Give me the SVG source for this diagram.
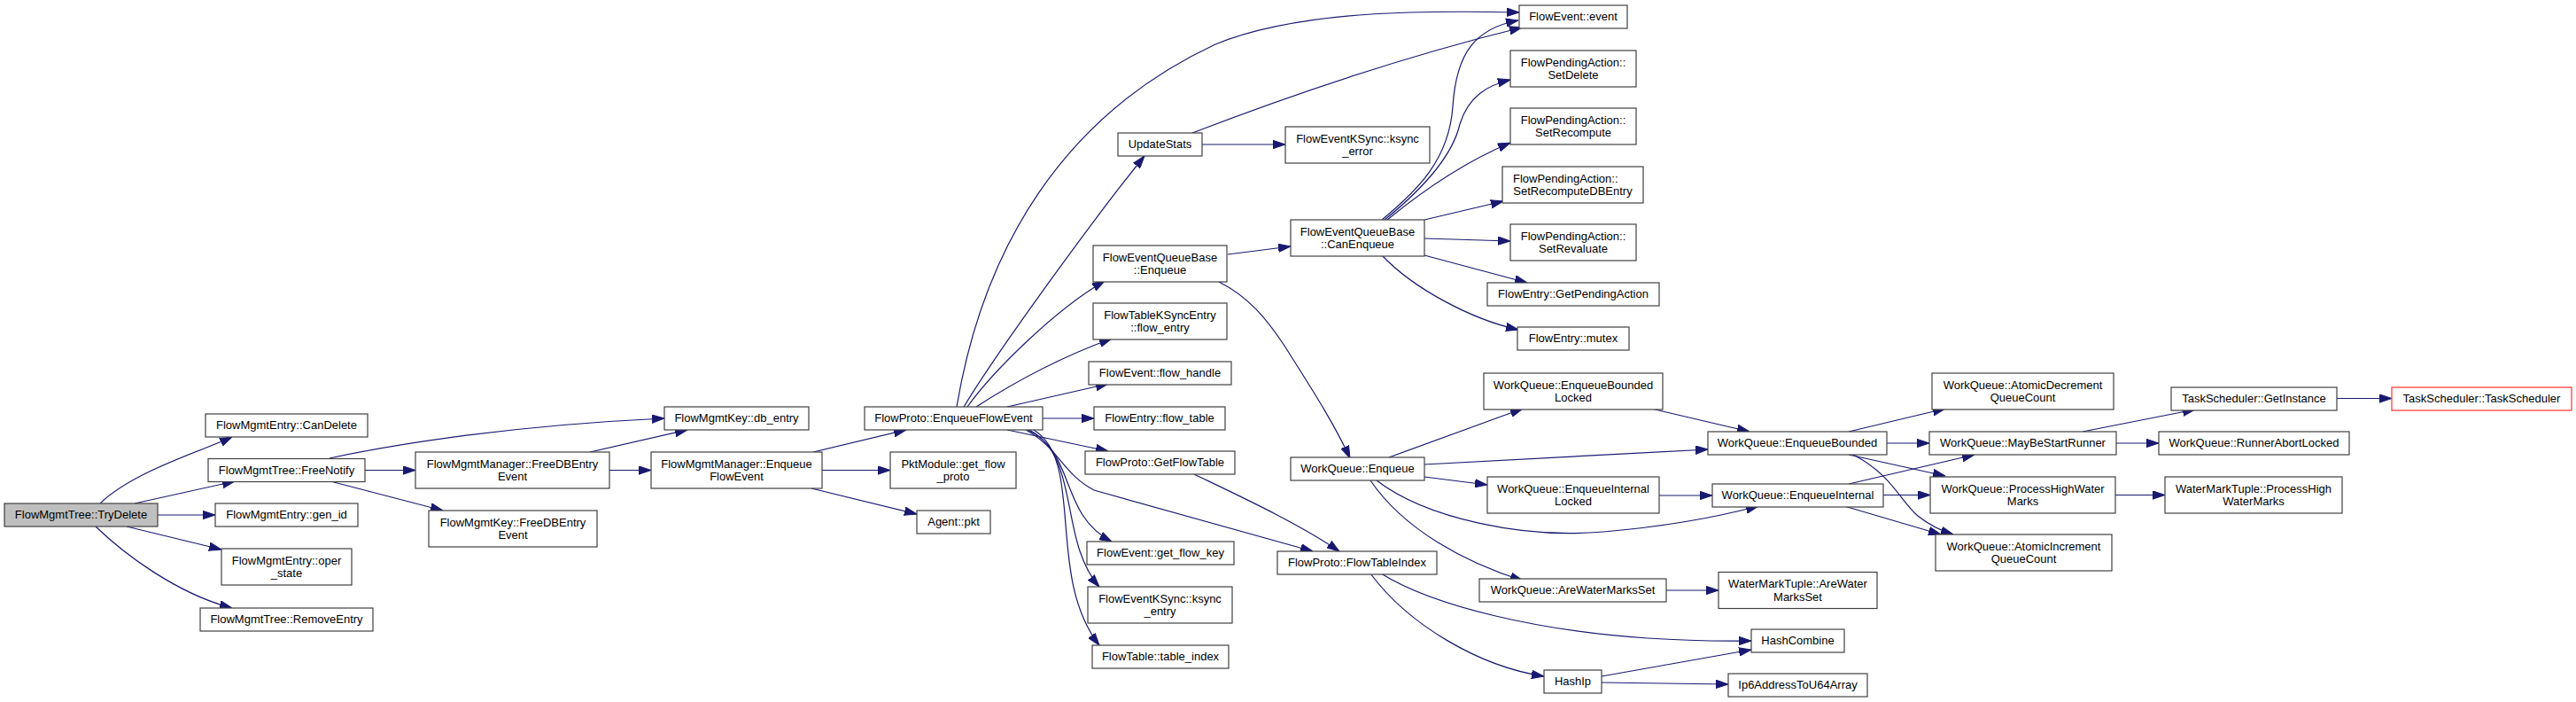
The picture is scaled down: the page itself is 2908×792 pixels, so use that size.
<svg xmlns="http://www.w3.org/2000/svg" width="2908" height="792" viewBox="0 0 2908 792">
<style>
.n rect{fill:#ffffff;stroke:#404040;stroke-width:1.2}
.root rect{fill:#bfbfbf}
.red rect{stroke:#ff3030}
text{font-family:"Liberation Sans",Arial,Helvetica,sans-serif;font-size:13px;fill:#000000;text-anchor:middle}
text.l{text-anchor:start}
#edges path{fill:none;stroke:#191970;stroke-width:1.2;marker-end:url(#a)}
</style>
<defs>
<marker id="a" viewBox="0 0 14 10" markerWidth="14" markerHeight="10" markerUnits="userSpaceOnUse" refX="14" refY="5" orient="auto">
<path d="M0,0.3 L14,5 L0,9.7 z" fill="#191970" stroke="#191970" stroke-width="1"/>
</marker>
</defs>
<rect x="0" y="0" width="2908" height="792" fill="#ffffff"/>
<g id="edges">
<path d="M113,568 C150,532 230,508 262,493"/>
<path d="M152,568 L265,543"/>
<path d="M178,581 L243,581"/>
<path d="M143,594 L250,620"/>
<path d="M108,594 C140,625 200,670 262,686"/>
<path d="M372,517 C450,500 580,480 750,472"/>
<path d="M412,530.5 L469,530.5"/>
<path d="M375,543.5 L500,576"/>
<path d="M666,510 L776,485"/>
<path d="M688,530.5 L735,530.5"/>
<path d="M918,510 L1023,485"/>
<path d="M928,530.5 L1005,530.5"/>
<path d="M916,551 L1035,580"/>
<path d="M1080,459 C1110,280 1200,130 1372,50 C1470,10 1620,12 1715,14"/>
<path d="M1088,459 C1130,390 1240,240 1292,176"/>
<path d="M1092,459 C1120,420 1190,350 1247,317"/>
<path d="M1102,459 C1150,428 1200,402 1255,382"/>
<path d="M1137,459 L1251,433"/>
<path d="M1177,472 L1235,472"/>
<path d="M1137,485 L1251,509"/>
<path d="M1160,485 C1215,510 1195,580 1255,611"/>
<path d="M1162,485 C1220,515 1195,610 1241,662"/>
<path d="M1167,485 C1225,520 1180,650 1241,728"/>
<path d="M1158,485 C1195,505 1200,535 1235,553 L1482,622"/>
<path d="M1346,150 C1450,110 1580,65 1718,31"/>
<path d="M1357,163 L1451,163"/>
<path d="M1386,287 L1457,278"/>
<path d="M1376,318 C1410,335 1430,360 1450,390 C1475,430 1505,475 1524,517"/>
<path d="M1560,248 C1600,215 1636,180 1640,120 C1644,60 1665,32 1714,23"/>
<path d="M1563,248 C1610,210 1640,175 1648,140 C1658,108 1680,96 1705,90"/>
<path d="M1566,248 C1610,212 1660,180 1705,161"/>
<path d="M1608,248 L1697,227"/>
<path d="M1608,269 L1705,272"/>
<path d="M1608,288 L1724,319"/>
<path d="M1560,288 C1595,325 1660,360 1714,372"/>
<path d="M1568,516 L1719,461"/>
<path d="M1608,524 L1928,507"/>
<path d="M1608,538 L1679,547"/>
<path d="M1554,542 C1610,585 1720,608 1810,600 C1880,594 1940,583 1985,571"/>
<path d="M1547,542 C1585,598 1655,635 1719,655"/>
<path d="M1559,647 C1620,685 1740,712 1860,720 C1920,724 1950,723 1977,723"/>
<path d="M1547,647 C1590,705 1670,752 1743,763"/>
<path d="M1348,535 C1400,560 1465,590 1512,622"/>
<path d="M1864,461 L1975,487"/>
<path d="M1873,559 L1933,559"/>
<path d="M1881,666 L1940,666"/>
<path d="M1808,763 L1977,733"/>
<path d="M1808,770 L1951,772"/>
<path d="M2087,487 L2196,461"/>
<path d="M2130,500 L2178,500"/>
<path d="M2087,513 L2196,537"/>
<path d="M2092,513 C2135,535 2145,565 2165,582 C2180,594 2192,599 2205,603"/>
<path d="M2087,546 L2229,513"/>
<path d="M2126,558.5 L2179,558.5"/>
<path d="M2082,571 L2191,603"/>
<path d="M2351,487 L2478,462"/>
<path d="M2389,500 L2437,500"/>
<path d="M2388,558.5 L2444,558.5"/>
<path d="M2638,449.5 L2700,449.5"/>
</g>
<g id="n_trydelete" class="n root"><rect x="5" y="568" width="173" height="26"/><text x="91.5" y="585.3">FlowMgmtTree::TryDelete</text></g>
<g id="n_candelete" class="n"><rect x="232" y="467" width="183" height="26"/><text x="323.5" y="484.3">FlowMgmtEntry::CanDelete</text></g>
<g id="n_freenotify" class="n"><rect x="235" y="517.5" width="177" height="26"/><text x="323.5" y="534.8">FlowMgmtTree::FreeNotify</text></g>
<g id="n_genid" class="n"><rect x="243" y="568" width="161" height="26"/><text x="323.5" y="585.3">FlowMgmtEntry::gen_id</text></g>
<g id="n_operstate" class="n"><rect x="250" y="619" width="147" height="41"/><text x="323.5" y="636.5">FlowMgmtEntry::oper</text><text x="323.5" y="651">_state</text></g>
<g id="n_removeentry" class="n"><rect x="226" y="686" width="195" height="26"/><text x="323.5" y="703.3">FlowMgmtTree::RemoveEntry</text></g>
<g id="n_fmm_freedb" class="n"><rect x="469" y="510" width="219" height="41"/><text x="578.5" y="527.5">FlowMgmtManager::FreeDBEntry</text><text x="578.5" y="542">Event</text></g>
<g id="n_fmk_freedb" class="n"><rect x="484" y="576" width="190" height="41"/><text x="579" y="593.5">FlowMgmtKey::FreeDBEntry</text><text x="579" y="608">Event</text></g>
<g id="n_dbentry" class="n"><rect x="750" y="459" width="163" height="26"/><text x="831.5" y="476.3">FlowMgmtKey::db_entry</text></g>
<g id="n_fmm_enqueue" class="n"><rect x="735" y="510" width="193" height="41"/><text x="831.5" y="527.5">FlowMgmtManager::Enqueue</text><text x="831.5" y="542">FlowEvent</text></g>
<g id="n_fp_enqueue" class="n"><rect x="976" y="459" width="201" height="26"/><text x="1076.5" y="476.3">FlowProto::EnqueueFlowEvent</text></g>
<g id="n_getflowproto" class="n"><rect x="1005" y="510" width="142" height="41"/><text x="1076" y="527.5">PktModule::get_flow</text><text x="1076" y="542">_proto</text></g>
<g id="n_agentpkt" class="n"><rect x="1035" y="576" width="83" height="26"/><text x="1076.5" y="593.3">Agent::pkt</text></g>
<g id="n_updatestats" class="n"><rect x="1262" y="150" width="95" height="26"/><text x="1309.5" y="167.3">UpdateStats</text></g>
<g id="n_feqb_enqueue" class="n"><rect x="1234" y="277" width="151" height="41"/><text x="1309.5" y="294.5">FlowEventQueueBase</text><text x="1309.5" y="309">::Enqueue</text></g>
<g id="n_flowentry" class="n"><rect x="1234" y="342" width="151" height="41"/><text x="1309.5" y="359.5">FlowTableKSyncEntry</text><text x="1309.5" y="374">::flow_entry</text></g>
<g id="n_flowhandle" class="n"><rect x="1229" y="408" width="161" height="26"/><text x="1309.5" y="425.3">FlowEvent::flow_handle</text></g>
<g id="n_flowtable" class="n"><rect x="1235" y="459" width="148" height="26"/><text x="1309" y="476.3">FlowEntry::flow_table</text></g>
<g id="n_getflowtable" class="n"><rect x="1225" y="509" width="169" height="26"/><text x="1309.5" y="526.3">FlowProto::GetFlowTable</text></g>
<g id="n_getflowkey" class="n"><rect x="1227" y="611" width="166" height="26"/><text x="1310" y="628.3">FlowEvent::get_flow_key</text></g>
<g id="n_ksyncentry" class="n"><rect x="1228" y="662" width="163" height="41"/><text x="1309.5" y="679.5">FlowEventKSync::ksync</text><text x="1309.5" y="694">_entry</text></g>
<g id="n_tableindex" class="n"><rect x="1233" y="728" width="154" height="26"/><text x="1310" y="745.3">FlowTable::table_index</text></g>
<g id="n_ksyncerror" class="n"><rect x="1451" y="143" width="163" height="41"/><text x="1532.5" y="160.5">FlowEventKSync::ksync</text><text x="1532.5" y="175">_error</text></g>
<g id="n_canenqueue" class="n"><rect x="1457" y="248" width="151" height="41"/><text x="1532.5" y="265.5">FlowEventQueueBase</text><text x="1532.5" y="280">::CanEnqueue</text></g>
<g id="n_wq_enqueue" class="n"><rect x="1457" y="516" width="151" height="26"/><text x="1532.5" y="533.3">WorkQueue::Enqueue</text></g>
<g id="n_flowtableindex" class="n"><rect x="1442" y="622" width="180" height="26"/><text x="1532" y="639.3">FlowProto::FlowTableIndex</text></g>
<g id="n_event" class="n"><rect x="1715" y="6" width="122" height="26"/><text x="1776" y="23.3">FlowEvent::event</text></g>
<g id="n_setdelete" class="n"><rect x="1705" y="57" width="142" height="41"/><text x="1776" y="74.5">FlowPendingAction::</text><text x="1776" y="89">SetDelete</text></g>
<g id="n_setrecompute" class="n"><rect x="1705" y="122" width="142" height="41"/><text x="1776" y="139.5">FlowPendingAction::</text><text x="1776" y="154">SetRecompute</text></g>
<g id="n_setrecomputedb" class="n"><rect x="1696" y="188" width="159" height="41"/><text class="l" x="1708" y="205.5">FlowPendingAction::</text><text x="1775.5" y="220">SetRecomputeDBEntry</text></g>
<g id="n_setrevaluate" class="n"><rect x="1705" y="253" width="142" height="41"/><text x="1776" y="270.5">FlowPendingAction::</text><text x="1776" y="285">SetRevaluate</text></g>
<g id="n_getpending" class="n"><rect x="1679" y="319" width="194" height="26"/><text x="1776" y="336.3">FlowEntry::GetPendingAction</text></g>
<g id="n_mutex" class="n"><rect x="1713" y="369" width="126" height="26"/><text x="1776" y="386.3">FlowEntry::mutex</text></g>
<g id="n_ebl" class="n"><rect x="1675" y="421" width="202" height="41"/><text x="1776" y="438.5">WorkQueue::EnqueueBounded</text><text x="1776" y="453">Locked</text></g>
<g id="n_eil" class="n"><rect x="1679" y="538" width="194" height="41"/><text x="1776" y="555.5">WorkQueue::EnqueueInternal</text><text x="1776" y="570">Locked</text></g>
<g id="n_awms" class="n"><rect x="1670" y="653" width="211" height="26"/><text x="1775.5" y="670.3">WorkQueue::AreWaterMarksSet</text></g>
<g id="n_haship" class="n"><rect x="1743" y="756" width="65" height="26"/><text x="1775.5" y="773.3">HashIp</text></g>
<g id="n_eb" class="n"><rect x="1928" y="487" width="202" height="26"/><text x="2029" y="504.3">WorkQueue::EnqueueBounded</text></g>
<g id="n_ei" class="n"><rect x="1933" y="546" width="193" height="26"/><text x="2029.5" y="563.3">WorkQueue::EnqueueInternal</text></g>
<g id="n_wmt_awms" class="n"><rect x="1940" y="645.5" width="179" height="41"/><text x="2029.5" y="663">WaterMarkTuple::AreWater</text><text x="2029.5" y="677.5">MarksSet</text></g>
<g id="n_hashcombine" class="n"><rect x="1977" y="710" width="105" height="26"/><text x="2029.5" y="727.3">HashCombine</text></g>
<g id="n_ip6" class="n"><rect x="1951" y="760" width="157" height="26"/><text x="2029.5" y="777.3">Ip6AddressToU64Array</text></g>
<g id="n_atomicdec" class="n"><rect x="2181" y="421" width="205" height="41"/><text x="2283.5" y="438.5">WorkQueue::AtomicDecrement</text><text x="2283.5" y="453">QueueCount</text></g>
<g id="n_maybestart" class="n"><rect x="2178" y="487" width="211" height="26"/><text x="2283.5" y="504.3">WorkQueue::MayBeStartRunner</text></g>
<g id="n_phwm" class="n"><rect x="2179" y="538" width="209" height="41"/><text x="2283.5" y="555.5">WorkQueue::ProcessHighWater</text><text x="2283.5" y="570">Marks</text></g>
<g id="n_atomicinc" class="n"><rect x="2185" y="603" width="199" height="41"/><text x="2284.5" y="620.5">WorkQueue::AtomicIncrement</text><text x="2284.5" y="635">QueueCount</text></g>
<g id="n_getinstance" class="n"><rect x="2451" y="437" width="187" height="26"/><text x="2544.5" y="454.3">TaskScheduler::GetInstance</text></g>
<g id="n_runnerabort" class="n"><rect x="2437" y="487" width="215" height="26"/><text x="2544.5" y="504.3">WorkQueue::RunnerAbortLocked</text></g>
<g id="n_wmt_phwm" class="n"><rect x="2444" y="538" width="200" height="41"/><text x="2544" y="555.5">WaterMarkTuple::ProcessHigh</text><text x="2544" y="570">WaterMarks</text></g>
<g id="n_taskscheduler" class="n red"><rect x="2700" y="437" width="203" height="26"/><text x="2801.5" y="454.3">TaskScheduler::TaskScheduler</text></g>
</svg>
